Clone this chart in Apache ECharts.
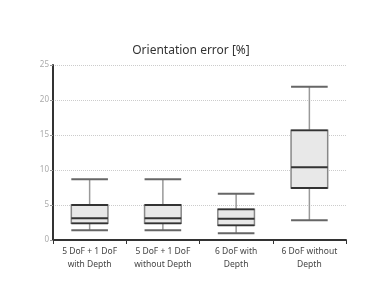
<!DOCTYPE html>
<html><head><meta charset="utf-8">
<script src="https://cdn.jsdelivr.net/npm/echarts@6/dist/echarts.min.js"></script>
<style>html,body{margin:0;padding:0;background:#fff}#c{width:382px;height:305px}</style>
</head><body><div id="c"></div>
<script>
const categories = ['5 DoF + 1 DoF\nwith Depth', '5 DoF + 1 DoF\nwithout Depth', '6 DoF with\nDepth', '6 DoF without\nDepth'];
const whiskerLow = [1.38, 1.38, 0.95, 2.81];
const q1 = [2.38, 2.38, 2.1, 7.43];
const median = [3.1, 3.1, 3.05, 10.38];
const q3 = [5.0, 5.0, 4.38, 15.67];
const whiskerHigh = [8.67, 8.67, 6.62, 21.9];
const yTicks = [0, 5, 10, 15, 20, 25];

const data = categories.map((c, i) => [i, whiskerLow[i], q1[i], median[i], q3[i], whiskerHigh[i]]);
const chart = echarts.init(document.getElementById('c'));
chart.setOption({
  animation: false,
  title: { text: 'Orientation error [%]', left: 'center', top: 40,
    textStyle: { fontFamily: 'Noto Sans', fontSize: 12, fontWeight: 'normal', color: '#333' } },
  grid: { left: 53, right: 36, top: 65, bottom: 65 },
  xAxis: { type: 'category', data: categories,
    axisLine: { lineStyle: { color: '#333', width: 2 } },
    axisTick: { show: true, length: 4, lineStyle: { color: '#333' } },
    axisLabel: { interval: 0, fontFamily: 'Noto Sans', fontSize: 8.5, color: '#444', lineHeight: 13, margin: 5 } },
  yAxis: { type: 'value', min: yTicks[0], max: yTicks[yTicks.length - 1], interval: 5,
    axisLine: { show: true, lineStyle: { color: '#333', width: 2 } },
    axisTick: { show: true, length: 3, lineStyle: { color: '#999' } },
    axisLabel: { fontFamily: 'Noto Sans', fontSize: 8, color: '#aaa', margin: 4 },
    splitLine: { lineStyle: { color: '#ccc', type: [1, 1], width: 1 } } },
  series: [{
    type: 'custom',
    data: data,
    renderItem: function (params, api) {
      const x = api.value(0);
      const bw = api.size([1, 0])[0] * 0.5;
      const lo = api.coord([x, api.value(1)]);
      const a = api.coord([x, api.value(2)]);
      const m = api.coord([x, api.value(3)]);
      const b = api.coord([x, api.value(4)]);
      const hi = api.coord([x, api.value(5)]);
      const cx = lo[0], x0 = cx - bw / 2, x1 = cx + bw / 2;
      return { type: 'group', children: [
        { type: 'line', shape: { x1: cx, y1: hi[1], x2: cx, y2: b[1] }, style: { stroke: '#999', lineWidth: 1.5 } },
        { type: 'line', shape: { x1: cx, y1: a[1], x2: cx, y2: lo[1] }, style: { stroke: '#999', lineWidth: 1.5 } },
        { type: 'line', shape: { x1: x0, y1: hi[1], x2: x1, y2: hi[1] }, style: { stroke: '#666', lineWidth: 2 } },
        { type: 'line', shape: { x1: x0, y1: lo[1], x2: x1, y2: lo[1] }, style: { stroke: '#666', lineWidth: 2 } },
        { type: 'rect', shape: { x: x0, y: b[1], width: bw, height: a[1] - b[1] }, style: { fill: '#e8e8e8', stroke: '#888', lineWidth: 1.5 } },
        { type: 'line', shape: { x1: x0, y1: b[1], x2: x1, y2: b[1] }, style: { stroke: '#333', lineWidth: 1.8 } },
        { type: 'line', shape: { x1: x0, y1: a[1], x2: x1, y2: a[1] }, style: { stroke: '#333', lineWidth: 1.8 } },
        { type: 'line', shape: { x1: x0, y1: m[1], x2: x1, y2: m[1] }, style: { stroke: '#333', lineWidth: 2 } }
      ] };
    }
  }]
});
</script></body></html>
